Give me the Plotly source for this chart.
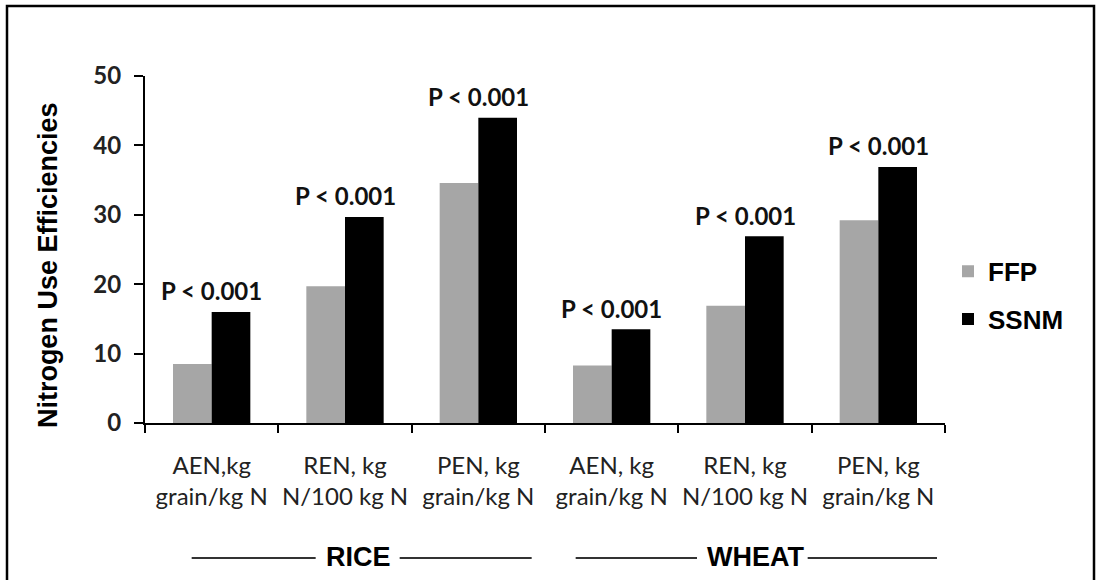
import plotly.graph_objects as go

# Nitrogen use efficiency indicators, rice then wheat
category_ids = ["rice_aen", "rice_ren", "rice_pen", "wheat_aen", "wheat_ren", "wheat_pen"]
tick_labels = [
    "AEN,kg<br>grain/kg N",
    "REN, kg<br>N/100 kg N",
    "PEN, kg<br>grain/kg N",
    "AEN, kg<br>grain/kg N",
    "REN, kg<br>N/100 kg N",
    "PEN, kg<br>grain/kg N",
]
ffp_values = [8.5, 19.7, 34.6, 8.3, 16.9, 29.2]
ssnm_values = [16.0, 29.7, 44.0, 13.5, 26.9, 36.9]
p_labels = ["P < 0.001"] * 6

crops = ["RICE", "WHEAT"]
crop_ranges = [(0, 2), (3, 5)]

y_ticks = [0, 10, 20, 30, 40, 50]

calibri_like = "Lato"
arial_like = "Liberation Sans"

fig = go.Figure()
fig.add_trace(go.Bar(
    x=category_ids, y=ffp_values, name="FFP",
    marker=dict(color="#a6a6a6", line=dict(width=0)),
    legendgroup="ffp",
))
fig.add_trace(go.Bar(
    x=category_ids, y=ssnm_values, name="SSNM",
    marker=dict(color="#000000", line=dict(width=0)),
    legendgroup="ssnm",
))

annotations = []
# significance labels above each pair, anchored on the taller bar
for i, (top, lab) in enumerate(zip(ssnm_values, p_labels)):
    annotations.append(dict(
        x=i, y=top, xref="x", yref="y", text=lab, showarrow=False,
        yanchor="middle", yshift=21,
        font=dict(family=calibri_like, size=24, color="#111", weight="bold"),
    ))

# y-axis title
annotations.append(dict(
    x=(48 - 145) / 800, y=0.455, xref="paper", yref="paper",
    text="Nitrogen Use Efficiencies",
    showarrow=False, textangle=-90, xanchor="center", yanchor="middle",
    font=dict(family=arial_like, size=27, color="#000", weight="bold"),
))

shapes = []
# crop group labels with horizontal rules either side
# (label offset, rule start, gap before label, gap after label, rule end) in category units
group_rules = [
    (0.10, -1.25, 0.32, 0.31, 1.30),
    (0.08, -1.35, 0.44, 0.39, 1.36),
]
group_y = -0.389
for crop, (a, b), (shift, left, gap_l, gap_r, right) in zip(crops, crop_ranges, group_rules):
    c = (a + b) / 2 + shift
    annotations.append(dict(
        x=c, y=group_y, xref="x", yref="paper", text=crop, showarrow=False,
        xanchor="center", yanchor="middle", yshift=1,
        font=dict(family=arial_like, size=27, color="#000", weight="bold"),
    ))
    for x0, x1 in [(c + left, c - gap_l), (c + gap_r, c + right)]:
        shapes.append(dict(
            type="line", xref="x", yref="paper", x0=x0, x1=x1,
            y0=group_y, y1=group_y, line=dict(color="#333", width=2),
        ))

# outer frame
shapes.append(dict(
    type="rect", xref="paper", yref="paper",
    x0=(7 - 145) / 800, x1=(1094 - 145) / 800,
    y0=-0.52, y1=(423 - 6) / 347,
    line=dict(color="#000", width=2.5), fillcolor="rgba(0,0,0,0)",
))

fig.update_layout(
    width=1096, height=580,
    margin=dict(l=145, r=151, t=76, b=157, pad=0),
    paper_bgcolor="white", plot_bgcolor="white",
    barmode="group", bargap=0.42, bargroupgap=0,
    showlegend=True,
    legend=dict(
        x=(948 - 145) / 800, xanchor="left", y=0.505, yanchor="top",
        font=dict(family=arial_like, size=26, color="#000", weight="bold"),
        traceorder="grouped", tracegroupgap=11,
        bgcolor="rgba(0,0,0,0)", borderwidth=0, itemwidth=30,
    ),
    xaxis=dict(
        type="category", categoryorder="array", categoryarray=category_ids,
        tickmode="array", tickvals=category_ids, ticktext=tick_labels, tickangle=0,
        showline=True, linecolor="#000", linewidth=2,
        ticks="outside", tickson="boundaries", ticklen=8, tickwidth=2, tickcolor="#000",
        showgrid=False, zeroline=False, ticklabelstandoff=20,
        tickfont=dict(family=calibri_like, size=24, color="#222"),
    ),
    yaxis=dict(
        range=[0, 50], tickvals=y_ticks, showline=True, linecolor="#000", linewidth=2,
        ticks="outside", ticklen=9, tickwidth=2, tickcolor="#000",
        showgrid=False, zeroline=False, ticklabelstandoff=8,
        tickfont=dict(family=calibri_like, size=24, color="#222", weight="bold"),
    ),
    annotations=annotations,
    shapes=shapes,
)

fig.write_html("out.html")
